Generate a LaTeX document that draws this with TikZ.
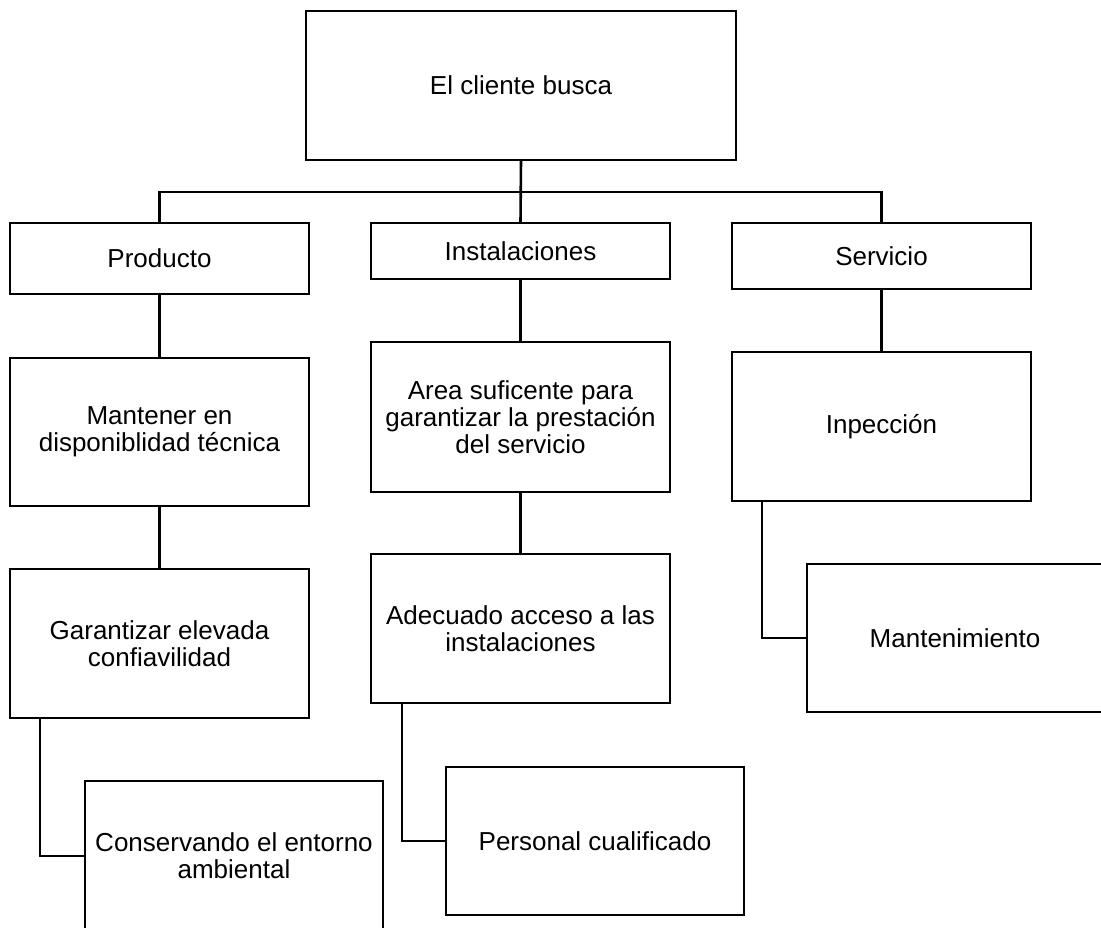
\documentclass[tikz,border=0pt]{standalone}
\usepackage{fontspec}
\setmainfont{Liberation Sans}
\begin{document}
\begin{tikzpicture}[x=1pt,y=-1pt,
  box/.style={draw=black, line width=2.6pt, rectangle, inner sep=0pt, outer sep=0pt,
    align=center, font=\fontsize{26}{27}\selectfont, minimum width=299pt},
  link/.style={draw=black, line width=2.6pt}]
\useasboundingbox (0,0) rectangle (1101,928);

% root
\node[box, minimum width=430pt, minimum height=149pt] (root) at (521,85.5) {El cliente busca};

% first level
\node[box, minimum height=71pt] (prod) at (159.5,258.5) {Producto};
\node[box, minimum height=56pt] (inst) at (520.5,251) {Instalaciones};
\node[box, minimum height=66pt] (serv) at (881.5,256) {Servicio};

% second level
\node[box, minimum height=148pt] (mant) at (159.5,432) {Mantener en\\disponiblidad técnica};
\node[box, minimum height=150pt] (area) at (520.5,417) {Area suficente para\\garantizar la prestación\\del servicio};
\node[box, minimum height=149pt] (insp) at (881.5,426.5) {Inpección};

% third level
\node[box, minimum height=149pt] (gara) at (159.5,643.5) {Garantizar elevada\\confiavilidad};
\node[box, minimum height=149pt] (adec) at (520.5,628.5) {Adecuado acceso a las\\instalaciones};
\node[box, minimum width=296pt, minimum height=148pt] (mtto) at (955,638) {Mantenimiento};

% fourth level
\node[box, minimum width=298pt, minimum height=150pt] (cons) at (234,856) {Conservando el entorno\\ambiental};
\node[box, minimum width=298pt, minimum height=148pt] (pers) at (595,841) {Personal cualificado};

% bus under the root
\coordinate (bus) at (521,192);
\draw[link] (root.south) -- (inst.north);
\draw[link] (prod.north) -- (prod.north |- bus) -- (serv.north |- bus) -- (serv.north);

% vertical chains
\draw[link] (prod.south) -- (mant.north);
\draw[link] (mant.south) -- (gara.north);
\draw[link] (inst.south) -- (area.north);
\draw[link] (area.south) -- (adec.north);
\draw[link] (serv.south) -- (insp.north);

% side branches
\draw[link] ([xshift=30pt]gara.south west) |- (cons.west);
\draw[link] ([xshift=31pt]adec.south west) |- (pers.west);
\draw[link] ([xshift=30pt]insp.south west) |- (mtto.west);
\end{tikzpicture}
\end{document}
